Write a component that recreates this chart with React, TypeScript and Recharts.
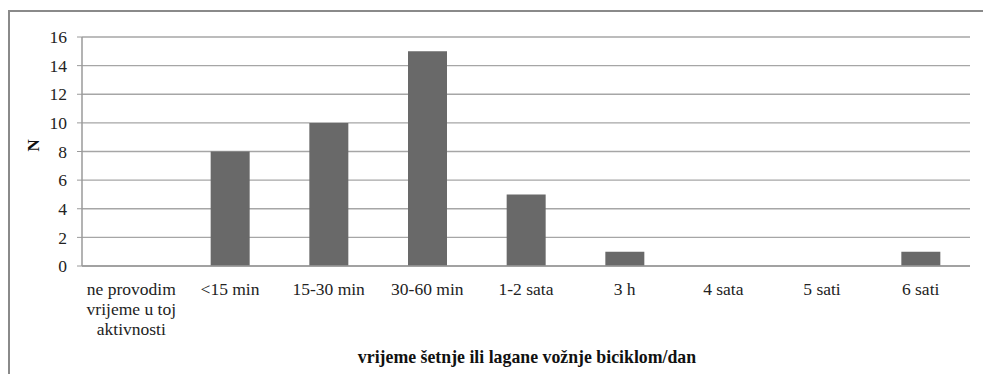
import React from 'react'
import { Bar, BarChart, CartesianGrid, XAxis, YAxis } from 'recharts'

const categories = [
  'ne provodim\nvrijeme u toj\naktivnosti',
  '<15 min',
  '15-30 min',
  '30-60 min',
  '1-2 sata',
  '3 h',
  '4 sata',
  '5 sati',
  '6 sati'
]
const counts = [0, 8, 10, 15, 5, 1, 0, 0, 1]
const yTicks = [0, 2, 4, 6, 8, 10, 12, 14, 16]

const data = categories.map((name, i) => ({ name, n: counts[i] }))

const FONT = "'Liberation Serif', 'DejaVu Serif', serif"

const CategoryTick = (props: any) => {
  const { x, y, payload } = props
  const lines = String(payload.value).split('\n')
  return (
    <text x={x} y={y} textAnchor="middle" fill="#222" fontSize={17.5} style={{ fontFamily: FONT }}>
      {lines.map((line, i) => (
        <tspan key={i} x={x} dy={i === 0 ? 21 : 20}>
          {line}
        </tspan>
      ))}
    </text>
  )
}

export default function App() {
  return (
    <div
      style={{
        position: 'fixed',
        left: 0,
        top: 0,
        width: 983,
        height: 374,
        background: '#fff',
        fontFamily: FONT
      }}
    >
      <div
        style={{
          position: 'absolute',
          left: 8,
          top: 10,
          width: 990,
          height: 380,
          borderTop: '2px solid #8a8a8a',
          borderLeft: '2px solid #8a8a8a',
          boxSizing: 'border-box'
        }}
      />
      <div style={{ position: 'absolute', left: 0, top: 0 }}>
        <BarChart
          width={983}
          height={374}
          data={data}
          margin={{ top: 37, right: 13, bottom: 38, left: 20 }}
          style={{ fontFamily: FONT }}
        >
          <CartesianGrid stroke="#a6a6a6" strokeWidth={1.3} vertical={false} />
          <XAxis
            dataKey="name"
            interval={0}
            tickLine={false}
            axisLine={{ stroke: '#9a9a9a', strokeWidth: 1.5 }}
            height={70}
            tick={<CategoryTick />}
            label={{
              value: 'vrijeme šetnje ili lagane vožnje biciklom/dan',
              position: 'bottom',
              offset: 14,
              dx: 1,
              fill: '#111',
              fontSize: 17.8,
              fontWeight: 'bold',
              style: { fontFamily: FONT }
            }}
          />
          <YAxis
            width={62}
            domain={[0, 16]}
            ticks={yTicks}
            interval={0}
            tickSize={5}
            tickMargin={10}
            tickLine={{ stroke: '#9a9a9a' }}
            axisLine={{ stroke: '#9a9a9a', strokeWidth: 1.5 }}
            tick={{ fill: '#222', fontSize: 17.5, style: { fontFamily: FONT } }}
            label={{
              value: 'N',
              angle: -90,
              position: 'insideLeft',
              offset: 13,
              fill: '#111',
              fontSize: 17,
              fontWeight: 'bold',
              style: { fontFamily: FONT }
            }}
          />
          <Bar dataKey="n" fill="#696969" barSize={39} isAnimationActive={false} />
        </BarChart>
      </div>
    </div>
  )
}
